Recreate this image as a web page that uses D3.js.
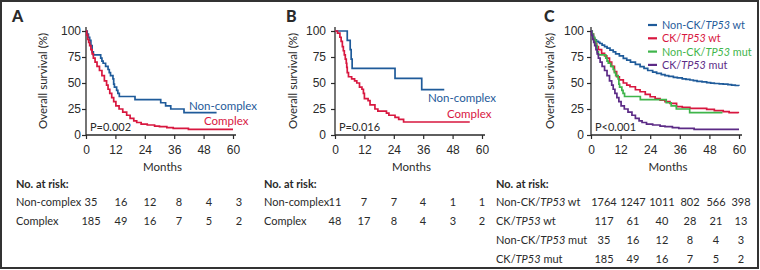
<!DOCTYPE html>
<html>
<head>
<meta charset="utf-8">
<script src="https://cdn.jsdelivr.net/npm/d3@7/dist/d3.min.js"></script>
<style>
body{margin:0;background:#fff;}
svg{display:block;font-family:Lato,"Open Sans",sans-serif;}
</style>
</head>
<body>
<svg id="chart" width="760" height="270"></svg>
<script>
var months = [0,12,24,36,48,60];
var yTicks = [0,25,50,75,100];

//KM curves, [month, survival %]
var nonComplex = [[0,100],[0.5,97],[1,94],[1.5,91],[2,86],[2.5,80],[3,77],[6,74],[6.5,71],[7,69],[8,66],[9,63],[9.5,60],[10,57],[11,54],[11.3,49],[11.6,46],[12.5,43],[13,40],[13.6,37],[20,34],[30.5,31],[32.5,28],[34.6,25],[40,21.5],[53.3,21.5]];
var complex = [[0,100],[0.3,96],[0.7,92],[1.1,89],[1.5,86],[2,82],[2.5,78],[3,74],[3.7,70],[4.5,66],[5.5,62],[6.5,57],[7.5,52],[8.4,48],[9,44],[9.7,40],[10.5,36],[11.3,32],[12.2,28],[13.5,25],[15,22],[16.6,19],[18,16],[19.5,13.5],[20.7,12],[22.5,10.5],[25,9.6],[28,8.5],[30,8],[33,7],[35.6,6.4],[41.8,5.4],[60,5.4]];
var nonComplexB = [[0,100],[5,91],[6.2,82],[6.6,73],[7,64],[24.5,54.5],[35.4,43.6],[44.6,43.6]];
var complexB = [[0,100],[1,98],[2,94],[2.5,90],[3,85],[3.4,81],[3.8,77],[4.2,73],[4.6,69],[4.8,65],[5,60],[5.5,56],[6.8,54],[8,52],[8.9,50],[10,46],[11,44],[11.6,40],[12,35],[13.5,33],[14.3,29],[16.3,25],[17.5,23],[21,21],[22,19],[24.5,17],[26,15],[28,12.5],[55,12.5]];
var nonCkWt = [[0,100],[0.3,97],[0.6,95],[1,93],[1.5,91.5],[2.2,90],[3,89],[3.6,88],[4.5,86.5],[5.5,85],[6.5,83.5],[7.7,81.7],[9,80],[10,78],[11.5,76],[13.1,73.7],[14.5,72],[16,70],[18,68],[19.9,65.7],[21.5,64],[23,62],[25,60.5],[26.6,59.3],[28.5,58],[30,57],[31.5,56.3],[33.4,55.5],[35,55],[37,54],[38.5,53.5],[40.1,52.9],[41.5,52.2],[43,51.5],[45,51],[46.9,50.3],[48.5,49.8],[50,49.5],[52,49.2],[53.6,49],[55.5,48.5],[57,48],[58.5,47.6],[60,47.4]];
var ckWt = [[0,100],[0.3,97],[1,92],[1.6,88],[2.3,85],[3,82],[4.3,78.5],[5.5,76],[6.4,74],[7.5,70],[8.4,66],[9.5,61],[10.4,56],[11.5,53],[13.1,50],[14.5,48],[15.8,46.4],[18,43.5],[19.9,41.6],[22,39],[24,36.8],[26,35],[28,33.6],[30,32],[32,30.5],[34.7,27.2],[37,26.5],[40.1,25.6],[46.9,24.6],[50,23.5],[53.6,22.4],[56,21.5],[59.7,20.8]];

//numbers at risk at 0,12,24,36,48,60 months
var riskNonComplexA = [35,16,12,8,4,3];
var riskComplexA = [185,49,16,7,5,2];
var riskNonComplexB = [11,7,7,4,1,1];
var riskComplexB = [48,17,8,4,3,2];
var riskNonCkWt = [1764,1247,1011,802,566,398];
var riskCkWt = [117,61,40,28,21,13];

var blue = "#1f5b9a", red = "#d8173f", green = "#3fb54b", purple = "#5c2b86";
var ink = "#2a2a2a";

var svg = d3.select("#chart");

//frame
svg.append("rect").attr("x",1).attr("y",1).attr("width",757).attr("height",267)
	.attr("fill","none").attr("stroke","#333").attr("stroke-width",2);

//tx = column centres of the risk table, one per month tick
var panels = [
	{letter:"A", lx:12, x0:86, x1:233, tx:[91,121,150,179,209,239], pad:1, labelX:43, tableX:16, p:"P=0.002",
	 series:[{data:nonComplex, col:blue},{data:complex, col:red}],
	 rows:[{name:[["Non-complex",false]], vals:riskNonComplexA},{name:[["Complex",false]], vals:riskComplexA}],
	 notes:[{text:"Non-complex", x:189, y:110, col:blue},{text:"Complex", x:204, y:124.5, col:red}]},
	{letter:"B", lx:286, x0:335, x1:482, tx:[335,364,394,423,453,482], pad:5, labelX:293, tableX:264, p:"P=0.016",
	 series:[{data:nonComplexB, col:blue},{data:complexB, col:red}],
	 rows:[{name:[["Non-complex",false]], vals:riskNonComplexB},{name:[["Complex",false]], vals:riskComplexB}],
	 notes:[{text:"Non-complex", x:428, y:102, col:blue},{text:"Complex", x:447, y:118, col:red}]},
	{letter:"C", lx:544, x0:591, x1:739, tx:[604,633,662,690,716,741], pad:3, labelX:550, tableX:496, p:"P<0.001",
	 series:[{data:nonCkWt, col:blue},{data:ckWt, col:red},{data:nonComplex, col:green},{data:complex, col:purple}],
	 rows:[{name:[["Non-CK/",false],["TP53",true],[" wt",false]], vals:riskNonCkWt, col:blue},
	       {name:[["CK/",false],["TP53",true],[" wt",false]], vals:riskCkWt, col:red},
	       {name:[["Non-CK/",false],["TP53",true],[" mut",false]], vals:riskNonComplexA, col:green},
	       {name:[["CK/",false],["TP53",true],[" mut",false]], vals:riskComplexA, col:purple}],
	 notes:[], legend:true}
];

function segText(sel, parts){
	parts.forEach(function(s){
		sel.append("tspan").attr("font-style", s[1] ? "italic" : null).text(s[0]);
	});
}

function drawPanel(p){
	var g = svg.append("g");
	var x = d3.scaleLinear().domain([0,60]).range([p.x0,p.x1]);
	var y = d3.scaleLinear().domain([0,100]).range([135,31]);

	g.append("text").attr("x",p.lx).attr("y",22).attr("font-size",16).attr("font-weight",900)
		.attr("fill",ink).text(p.letter);

	var xa = g.append("g").attr("transform","translate(0,135)")
		.call(d3.axisBottom(x).tickValues(months).tickSize(4).tickPadding(6).tickSizeOuter(0));
	var ya = g.append("g").attr("transform","translate("+p.x0+",0)")
		.call(d3.axisLeft(y).tickValues(yTicks).tickSize(4).tickPadding(p.pad).tickSizeOuter(0));
	[xa,ya].forEach(function(a){
		a.select(".domain").remove();
		a.selectAll("line").attr("stroke",ink).attr("stroke-width",1.2);
		a.selectAll("text").attr("font-size",12).attr("font-family",null).attr("fill",ink);
	});
	g.append("line").attr("x1",p.x0).attr("x2",p.x1+3).attr("y1",135).attr("y2",135)
		.attr("stroke",ink).attr("stroke-width",1.3);
	g.append("line").attr("x1",p.x0).attr("x2",p.x0).attr("y1",135).attr("y2",27)
		.attr("stroke",ink).attr("stroke-width",1.3);

	g.append("text").attr("transform","translate("+p.labelX+",81) rotate(-90)")
		.attr("text-anchor","middle").attr("dy","0.35em").attr("font-size",11.5).attr("fill",ink)
		.text("Overall survival (%)");
	g.append("text").attr("x",(p.x0+p.x1)/2+3).attr("y",171).attr("text-anchor","middle")
		.attr("font-size",11.5).attr("fill",ink).text("Months");

	var line = d3.line().curve(d3.curveStepAfter)
		.x(function(d){return x(d[0])}).y(function(d){return y(d[1])});
	p.series.forEach(function(s){
		g.append("path").attr("d",line(s.data)).attr("fill","none")
			.attr("stroke",s.col).attr("stroke-width",1.7);
	});

	g.append("text").attr("x",p.x0+4).attr("y",131).attr("font-size",11).attr("fill",ink).text(p.p);

	p.notes.forEach(function(n){
		g.append("text").attr("x",n.x).attr("y",n.y).attr("font-size",11.5).attr("fill",n.col).text(n.text);
	});

	if(p.legend){
		p.rows.forEach(function(r,i){
			var ly = 25+i*13.3;
			g.append("line").attr("x1",648).attr("x2",657).attr("y1",ly).attr("y2",ly)
				.attr("stroke",r.col).attr("stroke-width",2.2);
			var t = g.append("text").attr("x",662).attr("y",ly+4).attr("font-size",10.8).attr("fill",r.col);
			segText(t, r.name);
		});
	}

	//numbers at risk
	var tx = d3.scaleLinear().domain(months).range(p.tx);
	g.append("text").attr("x",p.tableX).attr("y",188).attr("font-size",11).attr("font-weight",700)
		.attr("fill",ink).text("No. at risk:");
	p.rows.forEach(function(r,i){
		var ry = 206+i*19;
		var t = g.append("text").attr("x",p.tableX).attr("y",ry).attr("font-size",11).attr("fill",ink);
		segText(t, r.name);
		g.selectAll(null).data(r.vals).enter().append("text")
			.attr("x",function(d,j){return tx(months[j])}).attr("y",ry)
			.attr("text-anchor","middle").attr("font-size",11).attr("fill",ink)
			.text(function(d){return d});
	});
}

panels.forEach(drawPanel);
</script>
</body>
</html>
